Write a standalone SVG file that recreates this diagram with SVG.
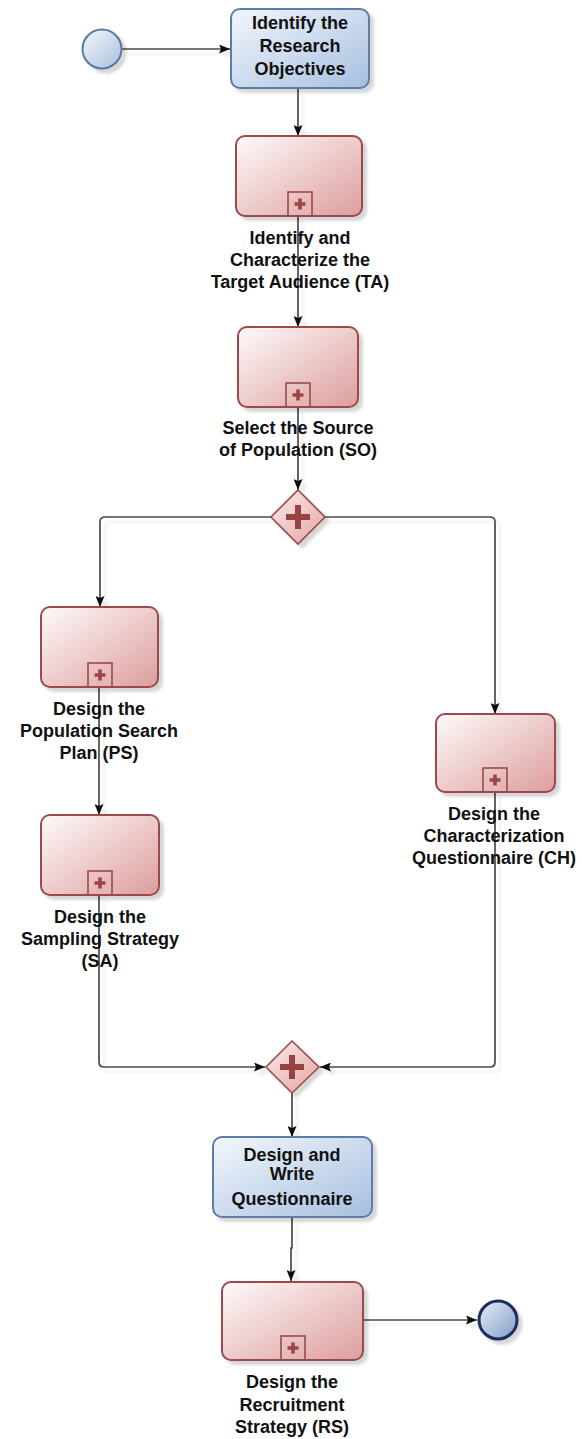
<svg xmlns="http://www.w3.org/2000/svg" width="582" height="1439" viewBox="0 0 582 1439">
  <defs>
    <linearGradient id="gRed" x1="0" y1="0" x2="1" y2="1">
      <stop offset="0" stop-color="#fefafa"/>
      <stop offset="1" stop-color="#dd9d9d"/>
    </linearGradient>
    <linearGradient id="gBlue" x1="0" y1="0" x2="1" y2="1">
      <stop offset="0" stop-color="#f3f7fc"/>
      <stop offset="1" stop-color="#a6bfdf"/>
    </linearGradient>
    <linearGradient id="gGate" x1="0" y1="0" x2="1" y2="1">
      <stop offset="0" stop-color="#fcecec"/>
      <stop offset="1" stop-color="#e2a4a4"/>
    </linearGradient>
    <linearGradient id="gStart" x1="0" y1="0" x2="1" y2="1">
      <stop offset="0" stop-color="#f4f7fb"/>
      <stop offset="1" stop-color="#a9c0de"/>
    </linearGradient>
    <linearGradient id="gEnd" x1="0" y1="0" x2="1" y2="1">
      <stop offset="0" stop-color="#e6eef8"/>
      <stop offset="1" stop-color="#7e9ec6"/>
    </linearGradient>
    <filter id="shadow" x="-20%" y="-20%" width="150%" height="150%">
      <feDropShadow dx="4" dy="4" stdDeviation="1.5" flood-color="#000" flood-opacity="0.16"/>
    </filter>
    <filter id="lineShadow" x="-5%" y="-5%" width="110%" height="110%">
      <feDropShadow dx="5" dy="5" stdDeviation="1" flood-color="#000" flood-opacity="0.07"/>
    </filter>
    <marker id="arrow" viewBox="0 0 11 9" refX="11" refY="4.5" markerWidth="11" markerHeight="9" markerUnits="userSpaceOnUse" orient="auto">
      <path d="M0,0 L11,4.5 L0,9 L2,4.5 Z" fill="#111"/>
    </marker>
    <!-- collapsed sub-process marker: small square with a plus -->
    <g id="subMarker">
      <rect x="-12" y="-24" width="24" height="24" fill="none" stroke="#9c4a4a" stroke-width="1.6"/>
      <path d="M-5.5,-12 H5.5 M0,-17.5 V-6.5" stroke="#9c4545" stroke-width="3.6"/>
    </g>
  </defs>
  <style>
    .task { fill: url(#gRed); stroke: #9c4a4a; stroke-width: 2; }
    .btask { fill: url(#gBlue); stroke: #5a7ea7; stroke-width: 2; }
    .gate { fill: url(#gGate); stroke: #9c4a4a; stroke-width: 1.6; }
    .gplus { stroke: #964343; stroke-width: 6; fill: none; }
    .flow { fill: none; stroke: #4a4a4a; stroke-width: 1.7; marker-end: url(#arrow); }
    .lbl { font-family: "Liberation Sans", Arial, sans-serif; font-weight: bold; font-size: 18px; fill: #111; text-anchor: middle; }
  </style>

  <!-- sequence flows -->
  <g id="connectors" filter="url(#lineShadow)">
    <path class="flow" d="M122,49 H230"/>
    <path class="flow" d="M298,89 V136"/>
    <path class="flow" d="M298,216 V327"/>
    <path class="flow" d="M298,407 V490"/>
    <path class="flow" d="M271,517 H105 Q100,517 100,522 V607"/>
    <path class="flow" d="M325,517 H490 Q495,517 495,522 V714"/>
    <path class="flow" d="M99,687 V815"/>
    <path class="flow" d="M99,895 V1062 Q99,1067 104,1067 H265"/>
    <path class="flow" d="M495,792 V1062 Q495,1067 490,1067 H320"/>
    <path class="flow" d="M292,1093 V1137"/>
    <path class="flow" d="M292,1217 V1248 H291 V1281"/>
    <path class="flow" d="M363,1320 H477"/>
  </g>

  <g id="start" filter="url(#shadow)">
    <circle cx="102" cy="49" r="19.5" fill="url(#gStart)" stroke="#56799f" stroke-width="2"/>
  </g>

  <g id="objectives">
    <rect class="btask" x="231" y="9" width="138" height="79" rx="9" filter="url(#shadow)"/>
    <text class="lbl" x="300" y="29">Identify the</text>
    <text class="lbl" x="300" y="52">Research</text>
    <text class="lbl" x="300" y="75">Objectives</text>
  </g>

  <g id="target-audience">
    <rect class="task" x="236" y="136" width="126" height="80" rx="9" filter="url(#shadow)"/>
    <use href="#subMarker" x="300" y="216"/>
    <text class="lbl" x="300" y="244">Identify and</text>
    <text class="lbl" x="300" y="266">Characterize the</text>
    <text class="lbl" x="300" y="288">Target Audience (TA)</text>
  </g>

  <g id="source-population">
    <rect class="task" x="238" y="327" width="120" height="80" rx="9" filter="url(#shadow)"/>
    <use href="#subMarker" x="298" y="407"/>
    <text class="lbl" x="298" y="434">Select the Source</text>
    <text class="lbl" x="298" y="456">of Population (SO)</text>
  </g>

  <g id="split-gateway">
    <path class="gate" d="M298,490 L325,517 L298,544 L271,517 Z" filter="url(#shadow)"/>
    <path class="gplus" d="M286,517 H310 M298,505 V529"/>
  </g>

  <g id="search-plan">
    <rect class="task" x="41" y="607" width="117" height="80" rx="9" filter="url(#shadow)"/>
    <use href="#subMarker" x="100" y="687"/>
    <text class="lbl" x="99" y="715">Design the</text>
    <text class="lbl" x="99" y="737">Population Search</text>
    <text class="lbl" x="99" y="759">Plan (PS)</text>
  </g>

  <g id="sampling-strategy">
    <rect class="task" x="41" y="815" width="118" height="80" rx="9" filter="url(#shadow)"/>
    <use href="#subMarker" x="100" y="895"/>
    <text class="lbl" x="100" y="923">Design the</text>
    <text class="lbl" x="100" y="945">Sampling Strategy</text>
    <text class="lbl" x="100" y="967">(SA)</text>
  </g>

  <g id="characterization">
    <rect class="task" x="436" y="714" width="119" height="78" rx="9" filter="url(#shadow)"/>
    <use href="#subMarker" x="495" y="792"/>
    <text class="lbl" x="494" y="820">Design the</text>
    <text class="lbl" x="494" y="842">Characterization</text>
    <text class="lbl" x="494" y="864">Questionnaire (CH)</text>
  </g>

  <g id="join-gateway">
    <path class="gate" d="M292,1041 L319,1067 L292,1093 L266,1067 Z" filter="url(#shadow)"/>
    <path class="gplus" d="M280,1067 H304 M292,1055 V1079"/>
  </g>

  <g id="write-questionnaire">
    <rect class="btask" x="213" y="1137" width="159" height="80" rx="9" filter="url(#shadow)"/>
    <text class="lbl" x="292" y="1161">Design and</text>
    <text class="lbl" x="292" y="1180">Write</text>
    <text class="lbl" x="292" y="1205">Questionnaire</text>
  </g>

  <g id="recruitment">
    <rect class="task" x="222" y="1282" width="141" height="78" rx="9" filter="url(#shadow)"/>
    <use href="#subMarker" x="293" y="1360"/>
    <text class="lbl" x="292" y="1388">Design the</text>
    <text class="lbl" x="292" y="1411">Recruitment</text>
    <text class="lbl" x="292" y="1433">Strategy (RS)</text>
  </g>

  <g id="end" filter="url(#shadow)">
    <circle cx="498" cy="1320" r="19" fill="url(#gEnd)" stroke="#1c2d5c" stroke-width="3"/>
  </g>
</svg>
